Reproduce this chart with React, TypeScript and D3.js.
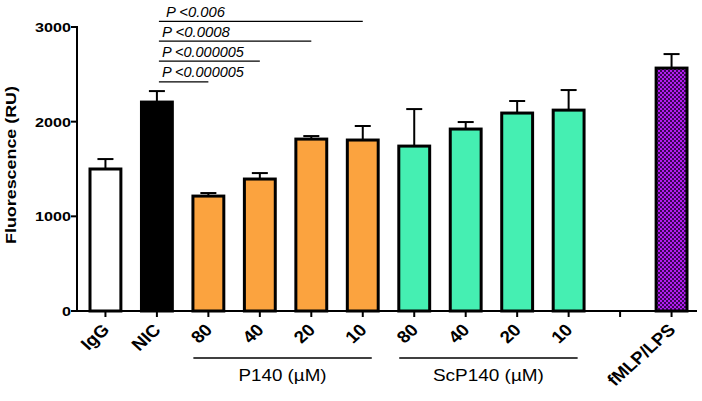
import React from "react";
import * as d3 from "d3";

const categories = ["IgG", "NIC", "80", "40", "20", "10", "s80", "s40", "s20", "s10", "gap", "fMLP/LPS"];
const tickLabels = ["IgG", "NIC", "80", "40", "20", "10", "80", "40", "20", "10", "", "fMLP/LPS"];
const means = [1500, 2207, 1214, 1394, 1816, 1806, 1742, 1922, 2091, 2122, null, 2566];
const errTops = [1605, 2323, 1246, 1457, 1848, 1954, 2133, 1996, 2218, 2334, null, 2714];
const fills = ["#ffffff", "#000000", "#fba33f", "#fba33f", "#fba33f", "#fba33f", "#45efb2", "#45efb2", "#45efb2", "#45efb2", "none", "url(#chk)"];
const yTicks = [0, 1000, 2000, 3000];

const sigLabels = ["P <0.006", "P <0.0008", "P <0.000005", "P <0.000005"];
const sigLevels = [3060, 2850, 2640, 2420];
const sigEnds = ["10", "20", "40", "80"];
const sigWidths = [59, 68, 82, 82];

const groupNames = ["P140 (µM)", "ScP140 (µM)"];
const groupFrom = ["80", "s80"];
const groupTo = ["10", "s10"];
const groupWidths = [88, 111];

const FONT = "Arial, 'Liberation Sans', Helvetica, sans-serif";

export default function App() {
  const W = 702, H = 401;
  const x = d3.scaleBand<string>().domain(categories).range([90, 687]).paddingInner(0.4).paddingOuter(0);
  const y = d3.scaleLinear().domain([0, 3000]).range([311, 27]);
  const bw = x.bandwidth();
  const cx = (c: string) => (x(c) as number) + bw / 2;
  const axisLeft = 77, axisRight = 697;

  return (
    <svg width={W} height={H} style={{ position: "absolute", left: 0, top: 0, background: "#fff" }} fontFamily={FONT}>
      <defs>
        <pattern id="chk" width="4" height="4" patternUnits="userSpaceOnUse">
          <rect width="4" height="4" fill="#3c0458" />
          <rect width="2" height="2" fill="#b21ef0" />
          <rect x="2" y="2" width="2" height="2" fill="#b21ef0" />
        </pattern>
      </defs>

      {/* bars */}
      {categories.map((c, i) => {
        const v = means[i];
        if (v == null) return null;
        const e = errTops[i] as number;
        return (
          <g key={c}>
            <line x1={cx(c)} x2={cx(c)} y1={y(v)} y2={y(e)} stroke="#000" strokeWidth={2} />
            <line x1={cx(c) - 8} x2={cx(c) + 8} y1={y(e)} y2={y(e)} stroke="#000" strokeWidth={2} />
            <rect x={x(c)} y={y(v)} width={bw} height={y(0) - y(v)} fill={fills[i]} stroke="#000" strokeWidth={3} />
          </g>
        );
      })}

      {/* axes */}
      <line x1={axisLeft} x2={axisLeft} y1={y(3000) - 1} y2={y(0) + 1} stroke="#000" strokeWidth={2} />
      <line x1={axisLeft - 1} x2={axisRight} y1={y(0)} y2={y(0)} stroke="#000" strokeWidth={2} />
      {yTicks.map((t) => (
        <g key={t}>
          <line x1={axisLeft - 6} x2={axisLeft} y1={y(t)} y2={y(t)} stroke="#000" strokeWidth={2} />
          <text x={71} y={y(t) + 5} textAnchor="end" fontSize={13.5} fontWeight="bold"
            textLength={t === 0 ? 9 : 36} lengthAdjust="spacingAndGlyphs">{t}</text>
        </g>
      ))}
      {categories.map((c, i) => (
        <g key={"t" + c}>
          <line x1={cx(c)} x2={cx(c)} y1={y(0)} y2={y(0) + 6} stroke="#000" strokeWidth={2} />
          {tickLabels[i] && (
            <text transform={`translate(${cx(c) + 5},${y(0) + 20}) scale(1.1,1) rotate(-45)`} textAnchor="end"
              fontSize={17} fontWeight="bold">{tickLabels[i]}</text>
          )}
        </g>
      ))}

      {/* y label */}
      <text transform={`translate(16,165) rotate(-90)`} textAnchor="middle" fontSize={15} fontWeight="bold"
        textLength={158} lengthAdjust="spacingAndGlyphs">Fluorescence (RU)</text>

      {/* significance */}
      {sigLabels.map((s, i) => {
        const x0 = cx("NIC") + 2;
        const x1 = cx(sigEnds[i]);
        const yy = y(sigLevels[i]);
        return (
          <g key={"s" + i}>
            <line x1={x0} x2={x1} y1={yy} y2={yy} stroke="#000" strokeWidth={1.3} />
            <text x={x0 + 3 + (i === 0 ? 4 : 0)} y={yy - 4.5} fontSize={14} fontStyle="italic"
              textLength={sigWidths[i]} lengthAdjust="spacingAndGlyphs">{s}</text>
          </g>
        );
      })}

      {/* group labels */}
      {groupNames.map((g, i) => {
        const a = cx(groupFrom[i]) - 15;
        const b = cx(groupTo[i]) + 9;
        return (
          <g key={g}>
            <line x1={a} x2={b} y1={358} y2={358} stroke="#000" strokeWidth={1.3} />
            <text x={(a + b) / 2} y={381} textAnchor="middle" fontSize={17}
              textLength={groupWidths[i]} lengthAdjust="spacingAndGlyphs">{g}</text>
          </g>
        );
      })}
    </svg>
  );
}
